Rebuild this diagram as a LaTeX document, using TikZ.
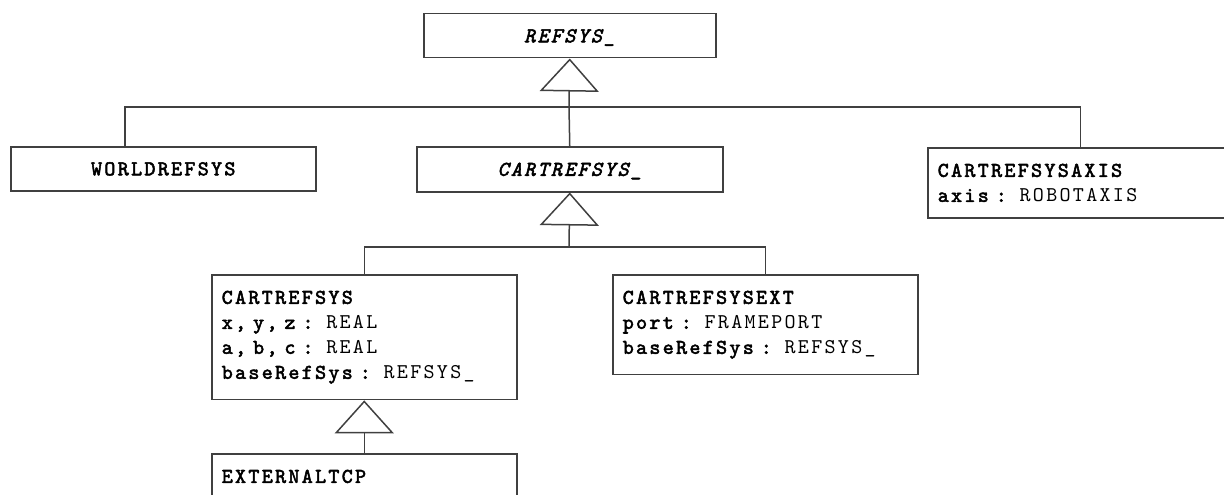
\documentclass[tikz,border=0pt]{standalone}
\usepackage{fontspec}
\usetikzlibrary{arrows.meta}
\newfontfamily\umlfont{lmmono10-regular.otf}[BoldFont=lmmono10-regular.otf, BoldFeatures={FakeBold=2.5}, ItalicFont=lmmono10-italic.otf, BoldItalicFont=lmmono10-italic.otf, BoldItalicFeatures={FakeBold=2.5}, LetterSpace=11, WordSpace={1.1,0,0}]
\newcommand{\umlsize}{\umlfont\fontsize{21}{25}\selectfont}

\tikzstyle{namebox} = [draw=black!75, line width=1.5pt, anchor=north west, minimum width=305pt, minimum height=44pt, inner sep=0pt, text depth=0pt, font=\umlsize\bfseries]
\tikzstyle{abstractbox} = [namebox, font=\umlsize\bfseries\itshape]
\tikzstyle{attrbox} = [draw=black!75, line width=1.5pt, anchor=north west, text width=285pt, align=left, inner xsep=10pt, inner ysep=16pt, font=\umlsize]
\tikzstyle{line} = [draw=black!75, line width=1.5pt]
\tikzstyle{inherit} = [line, -{Triangle[open, length=33pt, width=59pt]}]

\begin{document}
\begin{tikzpicture}[x=1pt, y=-1pt]

	\useasboundingbox (0,0) rectangle (1224,495);
	\clip (0,0) rectangle (1224,495);

	% Top level
	\node[abstractbox, minimum width=292pt] (refsys) at (423,13) {REFSYS\_};
	\node[namebox] (world) at (10,146) {WORLDREFSYS};
	\node[abstractbox, minimum width=306pt, minimum height=45pt] (cartabs) at (416,146) {CARTREFSYS\_};
	\node[attrbox] (axis) at (927,147) {\textbf{CARTREFSYSAXIS}\\ \textbf{axis :} ROBOTAXIS};
	\coordinate (bus1) at (569,107);
	\path[inherit] (bus1) -- (refsys.south);
	\path[line] ([xshift=115pt]world.north west) |- (bus1);
	\path[line] (axis.north) |- (bus1);
	\path[line] (cartabs.north) -- (bus1);

	% Cartesian systems
	\node[attrbox] (cartsys) at (211,274) {\textbf{CARTREFSYS}\\ \textbf{x, y, z :} REAL\\ \textbf{a, b, c :} REAL\\ \textbf{baseRefSys :} REFSYS\_};
	\node[attrbox] (cartext) at (612,274) {\textbf{CARTREFSYSEXT}\\ \textbf{port :} FRAMEPORT\\ \textbf{baseRefSys :} REFSYS\_};
	\coordinate (bus2) at (569,247);
	\path[inherit] (bus2) -- (cartabs.south);
	\path[line] (cartsys.north) |- (bus2);
	\path[line] (cartext.north) |- (bus2);

	% Bottom
	\node[attrbox, text depth=20pt] (exttcp) at (211,453) {\textbf{EXTERNALTCP}};
	\path[inherit] (exttcp.north) -- (cartsys.south);

\end{tikzpicture}
\end{document}
